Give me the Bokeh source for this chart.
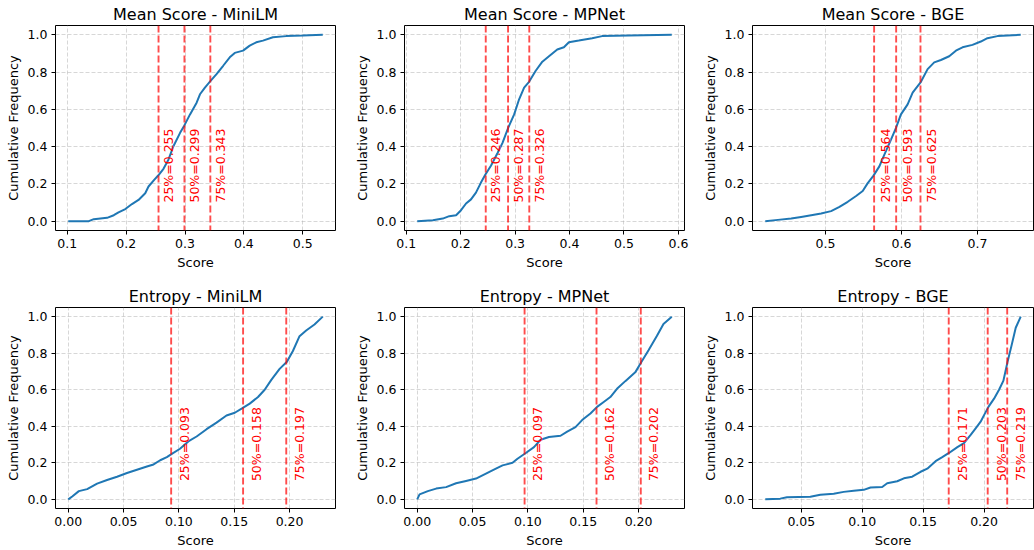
import numpy as np
from bokeh.plotting import figure
from bokeh.layouts import column, row
from bokeh.models import FixedTicker, PrintfTickFormatter, Range1d, Span
from bokeh.embed import file_html
from bokeh.resources import INLINE

FONT = "DejaVu Sans"

titles = ["Mean Score - MiniLM", "Mean Score - MPNet", "Mean Score - BGE",
          "Entropy - MiniLM", "Entropy - MPNet", "Entropy - BGE"]

# ---- Mean Score - MiniLM
ms_minilm_x = [0.1016, 0.1366, 0.145, 0.1676, 0.179, 0.187, 0.1986, 0.2099, 0.221, 0.2324,
               0.238, 0.2476, 0.2544, 0.2634, 0.2718, 0.2803, 0.2916, 0.2989, 0.3085, 0.3197,
               0.3254, 0.3338, 0.3434, 0.3535, 0.3648, 0.376, 0.3845, 0.3986, 0.4099, 0.4211,
               0.4324, 0.4493, 0.4718, 0.5, 0.534]
ms_minilm_y = [0.0, 0.0, 0.011, 0.018, 0.032, 0.047, 0.065, 0.092, 0.114, 0.15,
               0.186, 0.222, 0.245, 0.281, 0.33, 0.402, 0.474, 0.514, 0.573, 0.636,
               0.681, 0.717, 0.753, 0.789, 0.834, 0.879, 0.903, 0.915, 0.942, 0.96,
               0.969, 0.987, 0.993, 0.996, 1.0]

# ---- Mean Score - MPNet
ms_mpnet_x = [0.1201, 0.1488, 0.167, 0.179, 0.1915, 0.2006, 0.2098, 0.2189, 0.228, 0.2372,
              0.2451, 0.2555, 0.2677, 0.2768, 0.2872, 0.2982, 0.3073, 0.3165, 0.3256, 0.3378,
              0.35, 0.3622, 0.3774, 0.3896, 0.3988, 0.417, 0.4415, 0.4598, 0.5085, 0.5878]
ms_mpnet_y = [0.0, 0.005, 0.014, 0.027, 0.032, 0.059, 0.095, 0.117, 0.153, 0.207,
              0.249, 0.297, 0.366, 0.42, 0.501, 0.573, 0.654, 0.717, 0.748, 0.807,
              0.856, 0.885, 0.921, 0.933, 0.96, 0.969, 0.982, 0.993, 0.996, 1.0]

# ---- Mean Score - BGE
ms_bge_x = [0.4208, 0.4374, 0.4549, 0.468, 0.4812, 0.4943, 0.5074, 0.5184, 0.5293, 0.5403,
            0.549, 0.5556, 0.563, 0.5709, 0.5775, 0.5862, 0.5928, 0.5993, 0.6081, 0.6147,
            0.6256, 0.6344, 0.6431, 0.6519, 0.6628, 0.6716, 0.6803, 0.6934, 0.7044, 0.7131,
            0.7263, 0.7569]
ms_bge_y = [0.0, 0.007, 0.014, 0.023, 0.032, 0.041, 0.054, 0.077, 0.104, 0.135,
            0.162, 0.204, 0.243, 0.294, 0.357, 0.438, 0.501, 0.573, 0.627, 0.69,
            0.748, 0.816, 0.852, 0.865, 0.885, 0.915, 0.933, 0.946, 0.964, 0.982,
            0.993, 1.0]

# ---- Entropy - MiniLM
en_minilm_x = [0.0, 0.0036, 0.0096, 0.0171, 0.0261, 0.0351, 0.0441, 0.0531, 0.0621, 0.0711,
               0.0771, 0.0831, 0.0891, 0.0936, 0.101, 0.1085, 0.116, 0.125, 0.134, 0.143,
               0.1505, 0.1574, 0.164, 0.1715, 0.1775, 0.1835, 0.191, 0.1976, 0.203, 0.209,
               0.215, 0.2225, 0.23]
en_minilm_y = [0.0, 0.016, 0.045, 0.056, 0.086, 0.106, 0.124, 0.144, 0.162, 0.18,
               0.191, 0.214, 0.231, 0.249, 0.277, 0.317, 0.344, 0.384, 0.42, 0.459,
               0.474, 0.499, 0.524, 0.56, 0.6, 0.654, 0.714, 0.753, 0.812, 0.893,
               0.924, 0.957, 1.0]

# ---- Entropy - MPNet
en_mpnet_x = [0.0, 0.0021, 0.0096, 0.0171, 0.0261, 0.0351, 0.0441, 0.0531, 0.0621, 0.0711,
              0.0771, 0.0861, 0.0906, 0.0981, 0.1055, 0.1115, 0.119, 0.1295, 0.1355, 0.143,
              0.149, 0.1565, 0.1625, 0.1685, 0.1745, 0.1805, 0.188, 0.197, 0.2024, 0.209,
              0.2165, 0.2225, 0.23]
en_mpnet_y = [0.0, 0.027, 0.045, 0.059, 0.067, 0.088, 0.101, 0.114, 0.141, 0.168,
              0.186, 0.2, 0.222, 0.254, 0.286, 0.326, 0.341, 0.348, 0.371, 0.395,
              0.434, 0.47, 0.506, 0.533, 0.56, 0.605, 0.647, 0.695, 0.75, 0.816,
              0.894, 0.96, 1.0]

# ---- Entropy - BGE
en_bge_x = [0.0204, 0.0327, 0.0382, 0.0574, 0.0656, 0.0766, 0.0848, 0.093, 0.1012, 0.1068,
            0.1164, 0.1205, 0.1287, 0.1342, 0.141, 0.1479, 0.1534, 0.1602, 0.1657, 0.1712,
            0.1781, 0.1835, 0.189, 0.1931, 0.1972, 0.2, 0.2036, 0.2082, 0.2123, 0.2159,
            0.2192, 0.2225, 0.226, 0.2301]
en_bge_y = [0.0, 0.004, 0.011, 0.014, 0.025, 0.031, 0.041, 0.047, 0.052, 0.065,
            0.068, 0.088, 0.099, 0.115, 0.124, 0.151, 0.168, 0.209, 0.231, 0.254,
            0.286, 0.308, 0.353, 0.389, 0.425, 0.461, 0.506, 0.551, 0.6, 0.65,
            0.75, 0.84, 0.939, 1.0]

quartiles = [
    [0.255, 0.299, 0.343],
    [0.246, 0.287, 0.326],
    [0.564, 0.593, 0.625],
    [0.093, 0.158, 0.197],
    [0.097, 0.162, 0.202],
    [0.171, 0.203, 0.219],
]
quartile_names = ["25%", "50%", "75%"]

x_ticks = [
    [0.1, 0.2, 0.3, 0.4, 0.5],
    [0.1, 0.2, 0.3, 0.4, 0.5, 0.6],
    [0.5, 0.6, 0.7],
    [0.0, 0.05, 0.10, 0.15, 0.20],
    [0.0, 0.05, 0.10, 0.15, 0.20],
    [0.05, 0.10, 0.15, 0.20],
]
x_fmt = ["%.1f", "%.1f", "%.1f", "%.2f", "%.2f", "%.2f"]
y_ticks = [0.0, 0.2, 0.4, 0.6, 0.8, 1.0]

series_x = [ms_minilm_x, ms_mpnet_x, ms_bge_x, en_minilm_x, en_mpnet_x, en_bge_x]
series_y = [ms_minilm_y, ms_mpnet_y, ms_bge_y, en_minilm_y, en_mpnet_y, en_bge_y]

# layout geometry (pixels)
widths = [345, 345, 344]
borders_lr = [(55, 10), (59, 6), (62, 1)]
row_geom = [  # height, top border, bottom border
    (275, 25, 45),
    (275, 32, 42),
]


def make(i):
    r, c = divmod(i, 3)
    h, bt, bb = row_geom[r]
    bl, br = borders_lr[c]
    xs = series_x[i]
    ys = series_y[i]
    lo, hi = min(xs), max(xs)
    pad = (hi - lo) * 0.05
    p = figure(width=widths[c], height=h, output_backend="svg", toolbar_location=None,
               x_range=Range1d(lo - pad, hi + pad), y_range=Range1d(-0.05, 1.05),
               min_border_left=bl, min_border_right=br, min_border_top=bt,
               min_border_bottom=bb, title=titles[i])
    p.title.text_font = FONT
    p.title.text_font_size = "16px"
    p.title.text_font_style = "normal"
    p.title.text_color = "black"
    p.title.align = "center"
    p.title.standoff = 3
    p.outline_line_color = "black"
    p.outline_line_width = 1
    p.background_fill_color = "white"
    p.border_fill_color = "white"

    for ax in (p.xaxis[0], p.yaxis[0]):
        ax.axis_line_color = None
        ax.major_tick_line_color = "black"
        ax.major_tick_out = 4
        ax.major_tick_in = 0
        ax.minor_tick_line_color = None
        ax.major_label_text_font = FONT
        ax.major_label_text_font_size = "12.5px"
        ax.major_label_text_color = "black"
        ax.major_label_standoff = 4
        ax.axis_label_text_font = FONT
        ax.axis_label_text_font_size = "13px"
        ax.axis_label_text_font_style = "normal"
        ax.axis_label_text_color = "black"
        ax.axis_label_standoff = 4
    p.xaxis[0].ticker = FixedTicker(ticks=x_ticks[i])
    p.xaxis[0].formatter = PrintfTickFormatter(format=x_fmt[i])
    p.yaxis[0].ticker = FixedTicker(ticks=y_ticks)
    p.yaxis[0].formatter = PrintfTickFormatter(format="%.1f")
    p.xaxis[0].axis_label = "Score"
    p.yaxis[0].axis_label = "Cumulative Frequency"

    for g in (p.xgrid[0], p.ygrid[0]):
        g.grid_line_color = "#b0b0b0"
        g.grid_line_alpha = 0.5
        g.grid_line_dash = "4 2"
        g.grid_line_width = 1

    p.line(xs, ys, line_color="#1f77b4", line_width=2)

    qs = quartiles[i]
    for q in qs:
        p.add_layout(Span(location=q, dimension="height", line_color="red",
                          line_alpha=0.7, line_dash="7 3", line_width=1.9))
    labels = [f"{n}={q:.3f}" for n, q in zip(quartile_names, qs)]
    p.text(x=[q + 0.005 for q in qs], y=[0.1] * len(qs), text=labels,
           angle=np.pi / 2, text_align="left", text_baseline="top",
           text_color="red", text_alpha=1.0, text_font_size="12.5px",
           text_font={"value": FONT})
    return p


figs = [make(i) for i in range(6)]
layout = column(row(*figs[:3]), row(*figs[3:]))
open("out.html", "w").write(file_html(layout, INLINE))
